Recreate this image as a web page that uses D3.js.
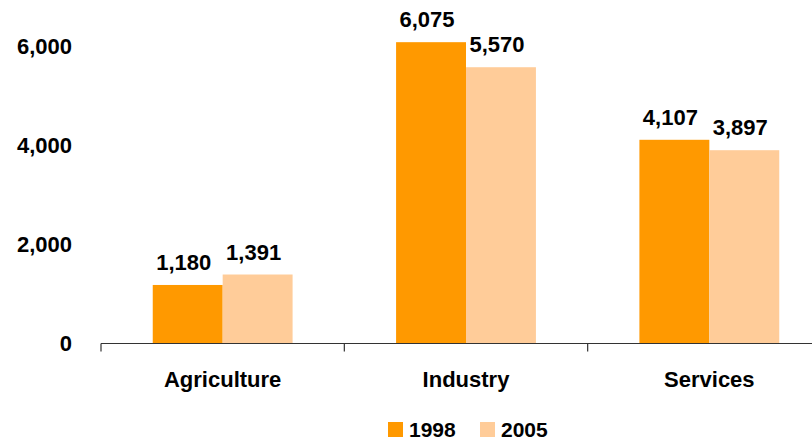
<!DOCTYPE html>
<html><head><meta charset="utf-8">
<script src="https://cdn.jsdelivr.net/npm/d3@7"></script>
<style>body{margin:0;background:#fff}svg{display:block}text{font-family:"Liberation Sans",Arial,sans-serif;font-weight:bold;fill:#000}</style>
</head><body><svg id="c" width="812" height="441"></svg>
<script>
const categories = ["Agriculture", "Industry", "Services"];
const seriesNames = ["1998", "2005"];
const values1998 = [1180, 6075, 4107];
const values2005 = [1391, 5570, 3897];
const yTicks = [0, 2000, 4000, 6000];
const colors = ["#FF9900", "#FFCC99"];

const svg = d3.select("#c");
const x = d3.scaleBand().domain(categories).range([101, 831]).paddingInner(0).paddingOuter(0);
const inner = d3.scaleBand().domain(seriesNames).range([0, x.bandwidth()]).paddingInner(0).paddingOuter(0.74);
const y = d3.scaleLinear().domain([0, 6000]).range([343.5, 45.9]);
const fmt = d3.format(",");

// y tick labels
svg.append("g").selectAll("text").data(yTicks).join("text")
  .attr("x", 72).attr("y", d => y(d)).attr("dy", "0.35em")
  .attr("text-anchor", "end").style("font-size", "22px").text(d => fmt(d));

const series = [values1998, values2005];
const data = [];
categories.forEach((c, i) => seriesNames.forEach((s, j) => data.push({c, s, v: series[j][i], j})));

svg.append("g").selectAll("rect").data(data).join("rect")
  .attr("x", d => x(d.c) + inner(d.s)).attr("width", inner.bandwidth())
  .attr("y", d => y(d.v)).attr("height", d => y(0) - y(d.v))
  .attr("fill", d => colors[d.j]);

svg.append("g").selectAll("text").data(data).join("text")
  .attr("x", d => x(d.c) + inner(d.s) + inner.bandwidth() / 2 - 4)
  .attr("y", d => y(d.v) - 15)
  .attr("text-anchor", "middle").style("font-size", "22px").text(d => fmt(d.v));

// x axis
const axis = svg.append("g").attr("transform", "translate(0,343.5)");
axis.append("line").attr("x1", 101).attr("x2", 831).attr("stroke", "#333").attr("stroke-width", 1.2);
const bounds = categories.map(c => x(c)).concat([x.range()[1]]);
axis.selectAll("line.t").data(bounds).join("line").attr("class", "t")
  .attr("x1", d => d).attr("x2", d => d).attr("y1", 0).attr("y2", 8)
  .attr("stroke", "#333").attr("stroke-width", 1.2);
svg.append("g").selectAll("text").data(categories).join("text")
  .attr("x", d => x(d) + x.bandwidth() / 2).attr("y", 386.5)
  .attr("text-anchor", "middle").style("font-size", "22px").text(d => d);

// legend
const legX = [388, 480];
const lg = svg.append("g").selectAll("g").data(seriesNames).join("g")
  .attr("transform", (d, i) => `translate(${legX[i]},422)`);
lg.append("rect").attr("width", 15).attr("height", 15).attr("fill", (d, i) => colors[i]);
lg.append("text").attr("x", 21).attr("y", 14.5).style("font-size", "21px").text(d => d);
</script></body></html>
